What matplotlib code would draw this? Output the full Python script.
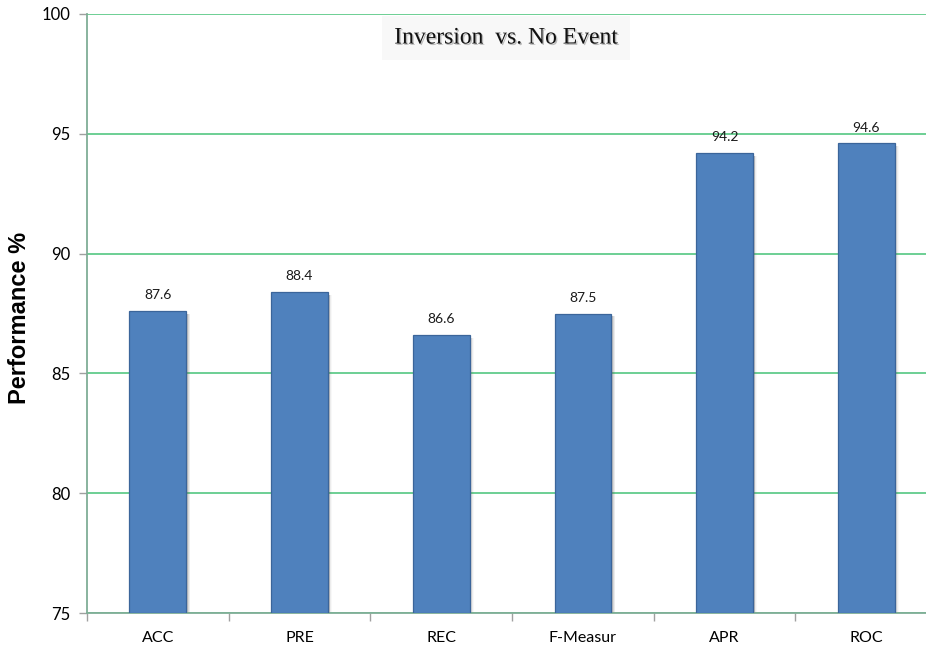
import numpy as np
import matplotlib.pyplot as plt
import matplotlib.patheffects as pe
from matplotlib.patches import Rectangle

# Classifier metrics for the inversion-vs-no-event case
metrics = ['ACC', 'PRE', 'REC', 'F-Measur', 'APR', 'ROC']
scores = [87.6, 88.4, 86.6, 87.5, 94.2, 94.6]
y_ticks = [75, 80, 85, 90, 95, 100]

bar_color = '#4F81BD'
edge_color = '#3B659A'
grid_color = '#45C276'
axis_color = '#7FAE96'

fig = plt.figure(figsize=(9.26, 6.53), dpi=100)
# axes run past the right edge, like the original sheet export
ax = fig.add_axes([87 / 926, 40 / 653, 850 / 926, 599 / 653])

x = np.arange(len(metrics))
width = 0.40

# soft drop shadow on the right side of each bar
for xi, s in zip(x, scores):
    for k, a in enumerate([0.22, 0.14, 0.08, 0.04]):
        ax.add_patch(Rectangle((xi - width / 2 + 0.012 + k * 0.006, 75), width,
                               s - 75 - 0.12, color='#606060', alpha=a,
                               lw=0, zorder=2))

bars = ax.bar(x, [s - 75 for s in scores], width, bottom=75, color=bar_color,
              edgecolor=edge_color, linewidth=0.9, zorder=3)

for xi, s in zip(x, scores):
    ax.annotate(f'{s:.1f}', (xi, s), xytext=(0, 7), textcoords='offset points',
                ha='center', va='bottom', fontsize=10, family='Lato',
                color='#1a1a1a', zorder=4)

ax.set_xlim(-0.5, len(metrics) - 0.5)
ax.set_ylim(75, 100)
ax.set_yticks(y_ticks)
ax.set_yticklabels([str(t) for t in y_ticks], family='Lato', fontsize=12)
ax.yaxis.grid(True, color=grid_color, linewidth=1.1, zorder=0)
ax.set_axisbelow(True)

# category labels centered, tick marks at the category boundaries
ax.set_xticks(x)
ax.set_xticklabels(metrics, family='Lato', fontsize=11.5)
ax.tick_params(axis='x', length=0, pad=13)
ax.set_xticks(np.arange(len(metrics) + 1) - 0.5, minor=True)
ax.tick_params(axis='x', which='minor', length=6, color='#A0A0A0', width=1)
ax.tick_params(axis='y', length=6, color='#A0A0A0', width=1, pad=6)

for side in ['top', 'right']:
    ax.spines[side].set_visible(False)
ax.spines['left'].set_color(axis_color)
ax.spines['left'].set_linewidth(1.3)
ax.spines['bottom'].set_color(axis_color)
ax.spines['bottom'].set_linewidth(1.3)

ax.set_ylabel('Performance %', family='Liberation Sans', fontweight='bold',
              fontsize=17)
ax.yaxis.set_label_coords(-0.066, 0.4925)

# title inside the plot area on a pale box
fig.text(506 / 926, 1 - 38 / 653, 'Inversion  vs. No Event', ha='center',
         va='center', family='Liberation Serif', fontsize=17, color='#111111',
         bbox=dict(boxstyle='square,pad=0.5', fc='#F8F8F8', ec='none'),
         path_effects=[pe.withSimplePatchShadow(offset=(1, -1), alpha=0.25)])

fig.savefig('out.png', dpi=100)
